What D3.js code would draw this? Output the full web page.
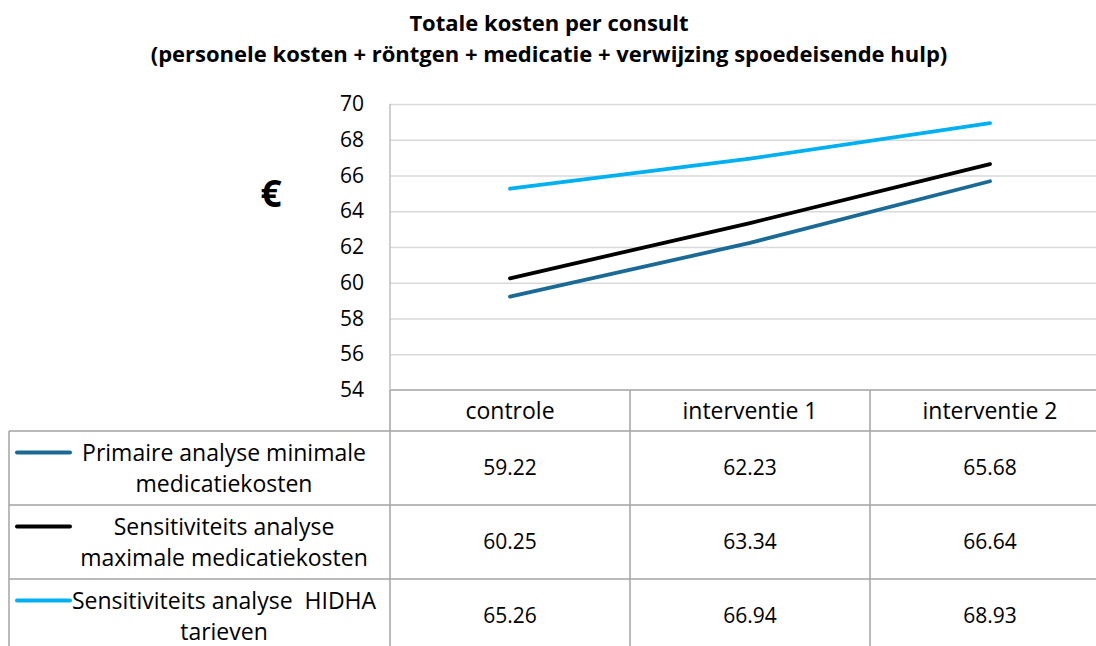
<!DOCTYPE html>
<html>
<head>
<meta charset="utf-8">
<script src="https://cdn.jsdelivr.net/npm/d3@7"></script>
<style>
  body { margin: 0; background: #fff; }
  svg { display: block; font-family: "Open Sans", sans-serif; }
</style>
</head>
<body>
<div id="chart"></div>
<script>
// ===========================================
// data
var categories = ["controle", "interventie 1", "interventie 2"];
var seriesNames = [
    ["Primaire analyse minimale", "medicatiekosten"],
    ["Sensitiviteits analyse", "maximale medicatiekosten"],
    ["Sensitiviteits analyse  HIDHA", "tarieven"]
];
var primair = [59.22, 62.23, 65.68];
var maxMedicatie = [60.25, 63.34, 66.64];
var hidha = [65.26, 66.94, 68.93];
var yTicks = [54, 56, 58, 60, 62, 64, 66, 68, 70];
var colors = ["#1b6a96", "#000000", "#00b0f0"];

var series = [primair, maxMedicatie, hidha];

// ===========================================
// svg & layout
var svgWidth = 1096;
var svgHeight = 646;

var plot = {left: 390, top: 104, bottom: 390, bandWidth: 240};
var tableLeft = 9;
var headerBottom = 431;
var rowHeight = 74;
var textSize = "23px";   // words
var numSize = "21px";    // numbers

var svg = d3.select("#chart")
    .append("svg")
    .attr("width", svgWidth)
    .attr("height", svgHeight);

var xscale = d3.scaleBand()
    .domain(categories)
    .range([plot.left, plot.left + plot.bandWidth * categories.length])
    .padding(0);

var yscale = d3.scaleLinear()
    .domain([54, 70])
    .range([plot.bottom, plot.top]);

// title
var title = svg.append("text")
    .attr("text-anchor", "middle")
    .attr("font-weight", "bold")
    .attr("font-size", "22px")
    .attr("fill", "#000");
title.append("tspan").attr("x", 549).attr("y", 31).text("Totale kosten per consult");
title.append("tspan").attr("x", 549).attr("y", 62)
    .text("(personele kosten + röntgen + medicatie + verwijzing spoedeisende hulp)");

// gridlines
var grid = svg.append("g")
    .attr("transform", `translate(${plot.left},0)`)
    .call(d3.axisLeft(yscale).tickValues(yTicks.slice(1)).tickSize(-(svgWidth - plot.left)).tickFormat(""));
grid.select(".domain").remove();
grid.selectAll("line").attr("stroke", "#d9d9d9").attr("stroke-width", 1.3);

// y axis labels
var yAxis = svg.append("g")
    .attr("transform", `translate(${plot.left - 26},0)`)
    .call(d3.axisLeft(yscale).tickValues(yTicks).tickSize(0).tickPadding(0));
yAxis.select(".domain").remove();
yAxis.selectAll("text")
    .attr("font-family", "'Open Sans', sans-serif")
    .attr("font-size", numSize)
    .attr("fill", "#000");

// euro label
svg.append("text")
    .attr("x", 271)
    .attr("y", 207)
    .attr("text-anchor", "middle")
    .attr("font-weight", "bold")
    .attr("font-size", "37px")
    .text("€");

// ===========================================
// table (data table under the chart)
var tableBottom = headerBottom + rowHeight * series.length;
var tableRight = xscale.range()[1];
var tableColor = "#a3a3a3";

var tbl = svg.append("g").attr("stroke", tableColor).attr("stroke-width", 1.5);

// header top line
tbl.append("line")
    .attr("x1", plot.left).attr("x2", tableRight)
    .attr("y1", plot.bottom).attr("y2", plot.bottom);

// row lines
d3.range(series.length + 1).forEach(function(i){
    tbl.append("line")
        .attr("x1", tableLeft).attr("x2", tableRight)
        .attr("y1", headerBottom + i * rowHeight).attr("y2", headerBottom + i * rowHeight);
});

// left border of table
tbl.append("line")
    .attr("x1", tableLeft).attr("x2", tableLeft)
    .attr("y1", headerBottom).attr("y2", tableBottom);

// y axis line + column dividers
svg.append("line")
    .attr("x1", plot.left).attr("x2", plot.left)
    .attr("y1", plot.top).attr("y2", plot.bottom)
    .attr("stroke", "#bfbfbf").attr("stroke-width", 1.5);

categories.forEach(function(c, i){
    var x = xscale(c);
    tbl.append("line")
        .attr("x1", x).attr("x2", x)
        .attr("y1", plot.bottom).attr("y2", tableBottom);
    if (i == categories.length - 1) {
        tbl.append("line")
            .attr("x1", x + xscale.bandwidth()).attr("x2", x + xscale.bandwidth())
            .attr("y1", plot.bottom).attr("y2", tableBottom);
    }
});

// header labels
svg.selectAll(null)
    .data(categories)
    .enter()
    .append("text")
    .attr("x", d => xscale(d) + xscale.bandwidth() / 2)
    .attr("y", (plot.bottom + headerBottom) / 2)
    .attr("dy", "0.35em")
    .attr("text-anchor", "middle")
    .attr("font-size", textSize)
    .text(d => d);

// values
series.forEach(function(values, s){
    var rowMid = headerBottom + s * rowHeight + rowHeight / 2;
    svg.selectAll(null)
        .data(values)
        .enter()
        .append("text")
        .attr("x", (d, i) => xscale(categories[i]) + xscale.bandwidth() / 2)
        .attr("y", rowMid)
        .attr("dy", "0.35em")
        .attr("text-anchor", "middle")
        .attr("font-size", numSize)
        .text(d => d.toFixed(2));

    // legend key + name
    var lineY = rowMid - 15.5;
    svg.append("line")
        .attr("x1", 17).attr("x2", 70)
        .attr("y1", lineY).attr("y2", lineY)
        .attr("stroke", colors[s])
        .attr("stroke-width", 4)
        .attr("stroke-linecap", "round");

    var label = svg.append("text")
        .attr("text-anchor", "middle")
        .attr("font-size", textSize)
        .style("white-space", "pre");
    seriesNames[s].forEach(function(t, k){
        label.append("tspan")
            .attr("x", 224)
            .attr("y", lineY + k * 31)
            .attr("dy", "0.35em")
            .text(t);
    });
});

// ===========================================
// lines
var line = d3.line()
    .x((d, i) => xscale(categories[i]) + xscale.bandwidth() / 2)
    .y(d => yscale(d));

svg.selectAll(".serie")
    .data(series)
    .enter()
    .append("path")
    .attr("class", "serie")
    .attr("d", d => line(d))
    .attr("fill", "none")
    .attr("stroke", (d, i) => colors[i])
    .attr("stroke-width", 3.8)
    .attr("stroke-linecap", "round");
</script>
</body>
</html>
